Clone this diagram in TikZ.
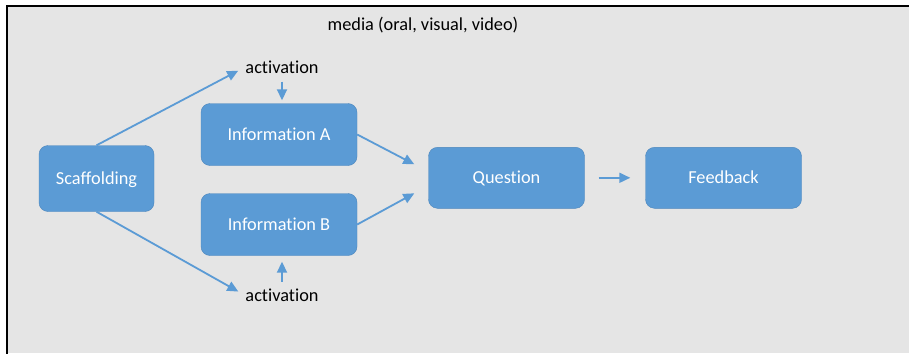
\documentclass[tikz,border=0pt]{standalone}
\usepackage{fontspec}
\setmainfont{Carlito}[Ligatures={NoCommon}]
\usetikzlibrary{arrows.meta}

\definecolor{boxblue}{HTML}{5B9BD5}
\definecolor{boxedge}{HTML}{4C86BC}
\definecolor{bggrey}{HTML}{E5E5E5}

\tikzset{
  stepbox/.style={draw=boxedge, fill=boxblue, rounded corners=9pt, text=white,
    inner sep=0pt, minimum width=156pt, minimum height=62pt,
    text height=11.7pt, text depth=0pt,
    font=\fontsize{18.3}{20}\selectfont},
  acttext/.style={inner sep=0pt, text=black, font=\fontsize{18.3}{20}\selectfont},
  link/.style={->, draw=boxblue, line width=1.8pt}
}

\begin{document}
\begin{tikzpicture}[x=1pt,y=-1pt,>={Triangle[length=11pt,width=10pt]}]
  % frame
  \useasboundingbox (0,0) rectangle (909,353);
  \fill[bggrey] (7,6) rectangle (909,353);
  \draw[line width=2.4pt, black] (7,360) -- (7,6) -- (915,6);

  % boxes
  \node[stepbox, minimum width=115pt, minimum height=66pt] (scaff) at (96.5,178.5) {Scaffolding};
  \node[stepbox] (infoA) at (279,134.5) {Information A};
  \node[stepbox] (infoB) at (279,224.5) {Information B};
  \node[stepbox, minimum height=61pt] (quest) at (506.5,177.8) {Question};
  \node[stepbox, minimum height=61pt] (feedb) at (723.5,177.8) {Feedback};

  % texts
  \node[acttext] (actTop) at (282,67) {activation};
  \node[acttext] (actBot) at (282,295.5) {activation};
  \node[acttext] (media) at (423,25) {media (oral, visual, video)};

  % arrow ends in front of the question
  \coordinate (qinA) at ([xshift=-14pt,yshift=13.5pt]quest.west);
  \coordinate (qinB) at ([xshift=-14pt,yshift=-15.5pt]quest.west);

  % arrows
  \draw[link, shorten >=8pt] (scaff.north) -- (actTop.west);
  \draw[link, shorten >=8pt] (scaff.south) -- (actBot.west);
  \draw[link, shorten <=8pt, shorten >=3pt] (actTop.south) -- (actTop.south |- infoA.north);
  \draw[link, shorten <=7pt, shorten >=6pt] (actBot.north) -- (actBot.north |- infoB.south);
  \draw[link] (infoA.east) -- (qinA);
  \draw[link] (infoB.east) -- (qinB);
  \draw[link, shorten <=14pt, shorten >=15pt] (quest) -- (feedb);
\end{tikzpicture}
\end{document}
